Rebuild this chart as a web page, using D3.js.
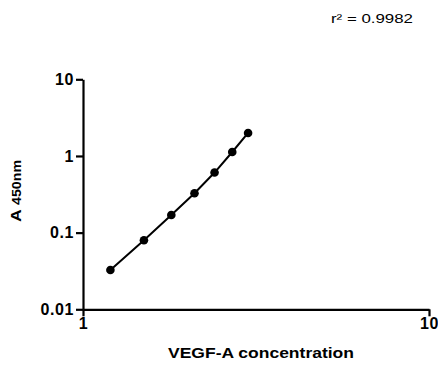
<!DOCTYPE html>
<html>
<head>
<meta charset="utf-8">
<script src="https://cdn.jsdelivr.net/npm/d3@7"></script>
<style>
  body { margin: 0; background: #fff; }
  svg { font-family: "Liberation Sans", Arial, sans-serif; }
</style>
</head>
<body>
<svg id="chart" width="438" height="367"></svg>
<script>
// VEGF-A standard curve
var concentration = [1.2, 1.5, 1.8, 2.1, 2.4, 2.7, 3.0];
var absorbance = [0.0326, 0.0796, 0.170, 0.327, 0.608, 1.127, 1.995];
var xTicks = [1, 10];
var yTicks = [0.01, 0.1, 1, 10];
var rSquared = "0.9982";

var svg = d3.select("#chart");

// log scales on both axes
var x = d3.scaleLog().domain([1, 10]).range([83, 429]);
var y = d3.scaleLog().domain([0.01, 10]).range([309.3, 79.3]);

// y axis
var yAxis = svg.append("g")
  .attr("transform", "translate(83,0)")
  .call(d3.axisLeft(y).tickValues(yTicks).tickFormat(function(d) { return String(d); })
    .tickSize(7).tickSizeOuter(0).tickPadding(2));

// x axis
var xAxis = svg.append("g")
  .attr("transform", "translate(0,309.3)")
  .call(d3.axisBottom(x).tickValues(xTicks).tickFormat(function(d) { return String(d); })
    .tickSize(7).tickSizeOuter(0).tickPadding(1));

[yAxis, xAxis].forEach(function(g) {
  g.attr("font-size", null).attr("font-family", null);
  g.selectAll("path, line").attr("stroke", "#000").attr("stroke-width", 2.2);
  g.selectAll("text")
    .attr("fill", "#000")
    .attr("font-size", 16)
    .attr("font-weight", "bold")
    .attr("letter-spacing", 0.6);
});

// fitted line through the standards
var line = d3.line()
  .x(function(d, i) { return x(concentration[i]); })
  .y(function(d) { return y(d); });

svg.append("path")
  .datum(absorbance)
  .attr("d", line)
  .attr("fill", "none")
  .attr("stroke", "#000")
  .attr("stroke-width", 2);

svg.selectAll("circle.pt")
  .data(absorbance)
  .enter().append("circle")
  .attr("class", "pt")
  .attr("cx", function(d, i) { return x(concentration[i]); })
  .attr("cy", function(d) { return y(d); })
  .attr("r", 4.3)
  .attr("fill", "#000");

// axis titles
svg.append("text")
  .attr("x", 168)
  .attr("y", 358)
  .attr("textLength", 186)
  .attr("lengthAdjust", "spacingAndGlyphs")
  .style("font-size", "15px")
  .style("font-weight", "bold")
  .text("VEGF-A concentration");

var yl = svg.append("text")
  .attr("transform", "translate(21,191) rotate(-90)")
  .attr("text-anchor", "middle")
  .attr("textLength", 62)
  .attr("lengthAdjust", "spacingAndGlyphs")
  .style("font-weight", "bold");
yl.append("tspan").style("font-size", "15px").text("A ");
yl.append("tspan").style("font-size", "12px").text("450nm");

// r squared annotation
svg.append("text")
  .attr("x", 331)
  .attr("y", 22.7)
  .attr("textLength", 82)
  .attr("lengthAdjust", "spacingAndGlyphs")
  .style("font-size", "13.5px")
  .text("r\u00B2 = " + rSquared);
</script>
</body>
</html>
